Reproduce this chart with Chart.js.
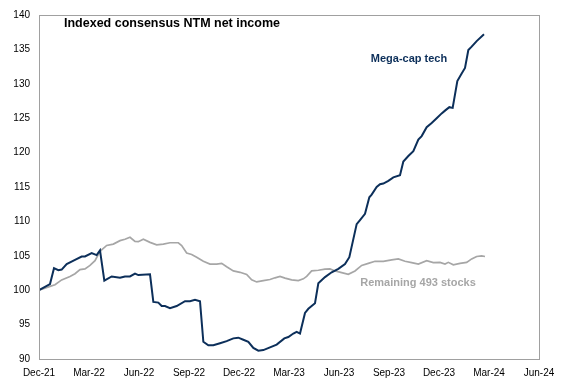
<!DOCTYPE html>
<html>
<head>
<meta charset="utf-8">
<script src="https://cdn.jsdelivr.net/npm/chart.js@4"></script>
<style>
  html, body { margin: 0; padding: 0; background: #ffffff; }
  #chart { display: block; }
</style>
</head>
<body>
<canvas id="chart" width="568" height="391"></canvas>
<script>
// x values are months since Dec-21
const tickLabels = ["Dec-21", "Mar-22", "Jun-22", "Sep-22", "Dec-22", "Mar-23",
  "Jun-23", "Sep-23", "Dec-23", "Mar-24", "Jun-24"];

const megaX = [0, 0.66, 0.9, 1.16, 1.36, 1.66, 2.16, 2.56, 2.76, 3.16, 3.46, 3.66,
  3.92, 4.36, 4.86, 5.16, 5.46, 5.76, 5.96, 6.66, 6.86, 7.16, 7.36, 7.56, 7.86,
  8.26, 8.76, 9.06, 9.36, 9.66, 9.86, 10.16, 10.46, 10.86, 11.26, 11.66, 11.96,
  12.26, 12.56, 12.86, 13.16, 13.46, 13.86, 14.26, 14.72, 14.96, 15.26, 15.46,
  15.66, 15.96, 16.16, 16.56, 16.76, 17.16, 17.56, 17.96, 18.36, 18.62, 19.06,
  19.26, 19.56, 19.82, 19.96, 20.26, 20.46, 20.66, 20.96, 21.26, 21.66, 21.86,
  22.16, 22.46, 22.76, 22.96, 23.26, 23.56, 23.86, 24.16, 24.36, 24.62, 24.82,
  25.1, 25.36, 25.56, 25.76, 25.96, 26.26, 26.7];
const megaY = [100, 100.9, 103.2, 102.9, 103.0, 103.8, 104.4, 104.9, 104.9, 105.4,
  105.1, 105.8, 101.4, 102.0, 101.8, 102.0, 102.0, 102.4, 102.2, 102.3, 98.3,
  98.2, 97.7, 97.7, 97.4, 97.7, 98.4, 98.4, 98.6, 98.4, 92.5, 92.0, 92.0, 92.3,
  92.6, 93.0, 93.1, 92.8, 92.5, 91.6, 91.2, 91.3, 91.7, 92.1, 93.0, 93.2, 93.7,
  93.95, 93.7, 96.7, 97.3, 98.1, 101.0, 101.9, 102.6, 103.1, 103.8, 104.8, 109.6,
  110.2, 111.1, 113.5, 113.9, 115.0, 115.4, 115.5, 115.9, 116.4, 116.7, 118.7,
  119.5, 120.2, 121.9, 122.4, 123.7, 124.3, 125.0, 125.7, 126.1, 126.6, 126.5,
  130.4, 131.5, 132.3, 134.9, 135.4, 136.2, 137.2];

const restX = [0, 0.66, 0.96, 1.36, 1.86, 2.16, 2.46, 2.76, 3.06, 3.36, 3.66, 4.06,
  4.46, 4.86, 5.16, 5.46, 5.76, 5.96, 6.26, 6.66, 7.06, 7.46, 7.86, 8.36, 8.56,
  8.86, 9.16, 9.46, 9.86, 10.26, 10.66, 10.96, 11.26, 11.66, 12.06, 12.46, 12.76,
  13.06, 13.46, 13.86, 14.16, 14.46, 14.76, 15.16, 15.56, 15.86, 16.06, 16.36,
  16.76, 17.16, 17.46, 17.76, 18.16, 18.56, 18.96, 19.36, 19.76, 20.16, 20.66,
  21.16, 21.56, 21.96, 22.36, 22.76, 23.26, 23.66, 24.06, 24.36, 24.56, 24.86,
  25.26, 25.66, 25.96, 26.26, 26.56, 26.76];
const restY = [100, 100.55, 100.8, 101.5, 102.0, 102.4, 103.0, 103.1, 103.6, 104.3,
  105.65, 106.5, 106.7, 107.2, 107.4, 107.7, 107.1, 107.05, 107.4, 106.95, 106.6,
  106.7, 106.9, 106.9, 106.5, 105.4, 105.2, 104.8, 104.2, 103.8, 103.8, 103.9,
  103.4, 102.8, 102.6, 102.3, 101.5, 101.2, 101.4, 101.55, 101.8, 102.0, 101.75,
  101.5, 101.4, 101.65, 102.0, 102.8, 102.9, 103.05, 103.1, 102.8, 102.55, 102.3,
  102.8, 103.6, 103.9, 104.2, 104.2, 104.4, 104.55, 104.2, 104.0, 103.8, 104.3,
  104.0, 104.05, 103.8, 104.05, 103.7, 103.9, 104.05, 104.55, 104.9, 105.0, 104.9];

const seriesNames = ["Mega-cap tech", "Remaining 493 stocks"];
const chartTitle = "Indexed consensus NTM net income";

const colors = {
  navy: "#0c2f5a",
  gray: "#a6a6a6",
  frame: "#a0a0a0",
  text: "#000000",
};
const fontFamily = "'Liberation Sans', Arial, sans-serif";

const toPoints = (xs, ys) => xs.map((x, i) => ({ x, y: ys[i] }));

// frame around the plot area, title and in-chart labels
const decorations = {
  id: "decorations",
  afterDraw: (chart) => {
    const { ctx, chartArea: a, scales } = chart;
    ctx.save();
    ctx.strokeStyle = colors.frame;
    ctx.lineWidth = 1;
    ctx.strokeRect(Math.round(a.left) + 0.5, Math.round(a.top) + 0.5,
      Math.round(a.right - a.left), Math.round(a.bottom - a.top));

    ctx.textAlign = "center";
    ctx.textBaseline = "middle";
    ctx.fillStyle = colors.text;
    ctx.font = `bold 12.5px ${fontFamily}`;
    ctx.fillText(chartTitle, 172, 24);

    ctx.font = `bold 11px ${fontFamily}`;
    ctx.fillStyle = colors.navy;
    ctx.fillText(seriesNames[0], scales.x.getPixelForValue(22.2), scales.y.getPixelForValue(133.6));
    ctx.fillStyle = colors.gray;
    ctx.fillText(seriesNames[1], scales.x.getPixelForValue(22.74), scales.y.getPixelForValue(101.1));
    ctx.restore();
  },
};

Chart.defaults.font.family = fontFamily;
Chart.defaults.font.size = 10;
Chart.defaults.color = colors.text;
Chart.defaults.animation = false;
Chart.defaults.responsive = false;

new Chart(document.getElementById("chart"), {
  type: "line",
  data: {
    datasets: [
      {
        label: seriesNames[0],
        data: toPoints(megaX, megaY),
        borderColor: colors.navy,
        borderWidth: 2,
        pointRadius: 0,
        tension: 0,
      },
      {
        label: seriesNames[1],
        data: toPoints(restX, restY),
        borderColor: colors.gray,
        borderWidth: 1.7,
        pointRadius: 0,
        tension: 0,
      },
    ],
  },
  options: {
    maintainAspectRatio: false,
    layout: { padding: { left: 0, top: 13, right: 29, bottom: 0 } },
    plugins: {
      legend: { display: false },
      tooltip: { enabled: false },
    },
    scales: {
      x: {
        type: "linear",
        min: 0,
        max: 30,
        grid: { display: false, drawTicks: false },
        border: { display: false },
        ticks: {
          stepSize: 3,
          padding: 8,
          maxRotation: 0,
          autoSkip: false,
          callback: (value) => tickLabels[Math.round(value / 3)],
        },
        afterFit: (scale) => { scale.height = 32; },
      },
      y: {
        min: 90,
        max: 140,
        grid: { display: false, drawTicks: false },
        border: { display: false },
        ticks: { stepSize: 5, padding: 9 },
        afterFit: (scale) => { scale.width = 39; },
      },
    },
  },
  plugins: [decorations],
});
</script>
</body>
</html>
